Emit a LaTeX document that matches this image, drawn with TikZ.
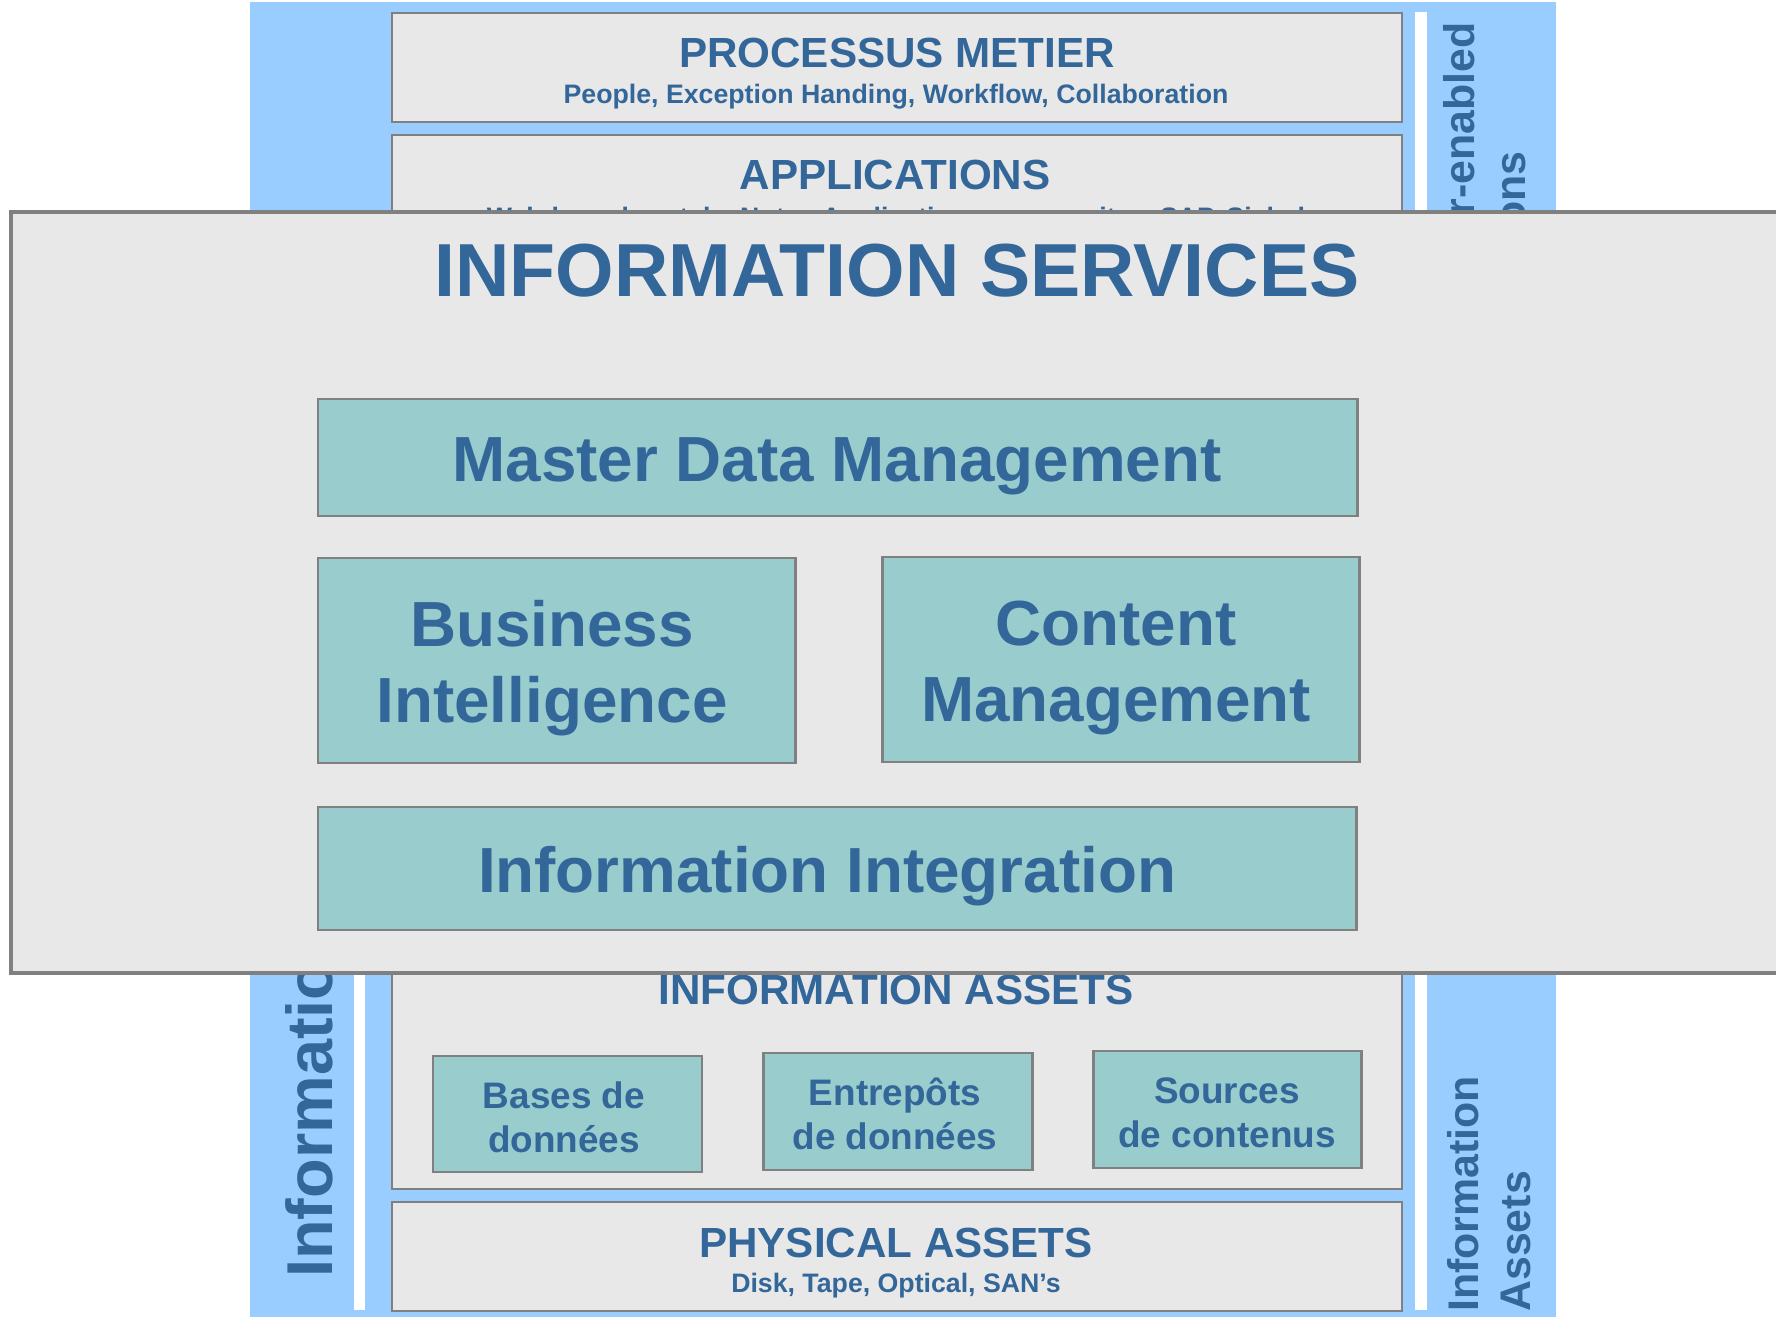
\documentclass[tikz,border=0pt]{standalone}
\usepackage{fontspec}
\setmainfont{Liberation Sans}
\definecolor{skyblue}{HTML}{99CCFF}
\definecolor{panelgray}{HTML}{E8E8E8}
\definecolor{tealfill}{HTML}{99CCCC}
\definecolor{inkblue}{HTML}{336699}
\definecolor{edgegray}{HTML}{808080}

\begin{document}
\begin{tikzpicture}[x=0.02cm, y=-0.02cm,
    layer/.style={fill=panelgray, draw=edgegray, line width=1.5pt},
    bigpanel/.style={fill=panelgray, draw=edgegray, line width=2.2pt},
    tealbox/.style={fill=tealfill, draw=edgegray, line width=1.7pt},
    bigtitle/.style={text=inkblue, inner sep=0pt, font=\bfseries\fontsize{42.8}{50}\selectfont},
    boxtxt/.style={text=inkblue, inner sep=0pt, align=center, font=\bfseries\fontsize{36.3}{43}\selectfont},
    layertitle/.style={text=inkblue, inner sep=0pt, font=\bfseries\fontsize{24}{29}\selectfont},
    layersub/.style={text=inkblue, inner sep=0pt, font=\bfseries\fontsize{15.2}{18}\selectfont},
    assettxt/.style={text=inkblue, inner sep=0pt, align=center, font=\bfseries\fontsize{21}{25}\selectfont},
    sidetxt/.style={text=inkblue, inner sep=0pt, rotate=90, font=\bfseries\fontsize{36.9}{44}\selectfont},
    sidesmall/.style={text=inkblue, inner sep=0pt, rotate=90, align=left, font=\bfseries\fontsize{24.4}{29.5}\selectfont}]

    \useasboundingbox (0,0) rectangle (1776,1317);
    \clip (0,0) rectangle (1776,1317);

    \fill[skyblue] (250,2) rectangle (1556,1317);
    \fill[white] (354,220) rectangle (365,1310);
    \fill[white] (1415,12) rectangle (1427,1310);

    \draw[layer] (392,13) rectangle (1402,122);
    \draw[layer] (392,135) rectangle (1402,320);
    \draw[layer] (392,900) rectangle (1402,1189);
    \draw[layer] (392,1202) rectangle (1402,1311);

    \node[layertitle, anchor=base] (procTitle) at (897,68) {PROCESSUS METIER};
    \node[layersub, anchor=base] (procSub) at (896,104) {People, Exception Handing, Workflow, Collaboration};
    \node[layertitle, anchor=base] (appTitle) at (895,190) {APPLICATIONS};
    \node[layersub, anchor=base] (appSub) at (896,227) {Web-based portals, Notes Applications, composites, SAP, Siebel};
    \node[layertitle, anchor=base] (assetTitle) at (896,1004) {INFORMATION ASSETS};
    \node[layertitle, anchor=base] (physTitle) at (896,1257) {PHYSICAL ASSETS};
    \node[layersub, anchor=base] (physSub) at (896,1292) {Disk, Tape, Optical, SAN’s};

    \draw[tealbox] (433,1056) rectangle (702,1172);
    \draw[tealbox] (763,1053) rectangle (1032,1170);
    \draw[tealbox] (1093,1051) rectangle (1361,1168);
    \node[assettxt] (bases) at (564,1117) {Bases de\\données};
    \node[assettxt] (entrepots) at (895,1114) {Entrepôts\\de données};
    \node[assettxt] (sources) at (1227,1113) {Sources\\de contenus};

    \node[sidetxt, anchor=base west] (leftSide) at (332,1278) {Informatio};
    \node[sidesmall, anchor=base east] (topSideA) at (1474,22) {r-enabled};
    \node[sidesmall, anchor=base east] (topSideB) at (1525,151) {ons};
    \node[sidesmall, anchor=south west] (bottomSide) at (1531,1312) {Information\\Assets};

    \draw[bigpanel] (11,212) rectangle (1800,973);
    \node[bigtitle, anchor=base] (infoServ) at (897,297) {INFORMATION SERVICES};

    \draw[tealbox] (318,399) rectangle (1357,516);
    \node[boxtxt, anchor=base] (mdm) at (837,482) {Master Data Management};
    \draw[tealbox] (318,558) rectangle (795,763);
    \node[boxtxt] (bi) at (552,668) {Business\\Intelligence};
    \draw[tealbox] (882,557) rectangle (1359,762);
    \node[boxtxt] (cm) at (1116,668) {Content\\Management};
    \draw[tealbox] (318,807) rectangle (1356,930);
    \node[boxtxt, anchor=base] (integ) at (827,892) {Information Integration};

\end{tikzpicture}
\end{document}
